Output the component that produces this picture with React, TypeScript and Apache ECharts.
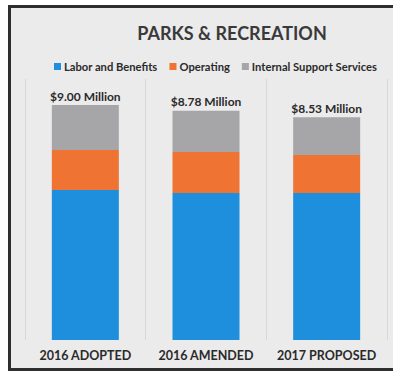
import React, { useEffect, useRef } from "react";
import * as echarts from "echarts";

const categories = ["2016 ADOPTED", "2016 AMENDED", "2017 PROPOSED"];
const laborBenefits = [5.75, 5.63, 5.63];
const operating = [1.53, 1.57, 1.46];
const internalSupport = [1.72, 1.58, 1.44];
const totalLabels = ["$9.00 Million", "$8.78 Million", "$8.53 Million"];

const FONT = "Lato, 'Open Sans', sans-serif";

export default function App() {
  const ref = useRef<HTMLDivElement>(null);
  useEffect(() => {
    const chart = echarts.init(ref.current!, null, { renderer: "svg" });
    chart.setOption({
      animation: false,
      backgroundColor: "#ffffff",
      textStyle: { fontFamily: FONT },
      graphic: [
        {
          type: "rect",
          z: -10,
          silent: true,
          shape: { x: 9.5, y: 6.5, width: 400, height: 363 },
          style: { fill: "#ebebeb", stroke: "#2e2e2e", lineWidth: 3 },
        },
      ],
      title: {
        text: "PARKS & RECREATION",
        left: 227,
        top: 19,
        textAlign: "center",
        textStyle: { fontSize: 18, fontWeight: "bold", color: "#3a3a3a", fontFamily: FONT },
      },
      legend: {
        top: 56,
        left: 49,
        itemWidth: 7,
        itemHeight: 7,
        itemGap: 12,
        icon: "rect",
        textStyle: { fontSize: 11.2, fontWeight: "bold", color: "#2a2a2a", fontFamily: FONT, padding: [0, 0, 0, -2] },
        data: ["Labor and Benefits", "Operating", "Internal Support Services"],
      },
      grid: { left: 25, right: 6, top: 79, bottom: 33 },
      xAxis: {
        type: "category",
        data: categories,
        axisLine: { show: false },
        axisTick: { show: false },
        splitLine: { show: true, lineStyle: { color: "#d8d8d8", width: 1 } },
        axisLabel: { interval: 0, fontSize: 12.5, fontWeight: "bold", color: "#2a2a2a", margin: 9, fontFamily: FONT },
      },
      yAxis: {
        type: "value",
        min: 0,
        max: 10,
        show: false,
        splitLine: { show: false },
      },
      series: [
        {
          name: "Labor and Benefits",
          type: "bar",
          stack: "total",
          barWidth: 67,
          data: laborBenefits,
          itemStyle: { color: "#1e8fdc" },
        },
        {
          name: "Operating",
          type: "bar",
          stack: "total",
          data: operating,
          itemStyle: { color: "#ef7332" },
        },
        {
          name: "Internal Support Services",
          type: "bar",
          stack: "total",
          data: internalSupport,
          itemStyle: { color: "#a6a6a8" },
          label: {
            show: true,
            position: "top",
            distance: 3,
            formatter: (p: any) => totalLabels[p.dataIndex],
            fontSize: 12,
            fontWeight: "bold",
            color: "#2a2a2a",
            fontFamily: FONT,
          },
        },
      ],
    });
    return () => chart.dispose();
  }, []);
  return (
    <div
      ref={ref}
      style={{ position: "fixed", left: 0, top: 0, width: 393, height: 373 }}
    />
  );
}
